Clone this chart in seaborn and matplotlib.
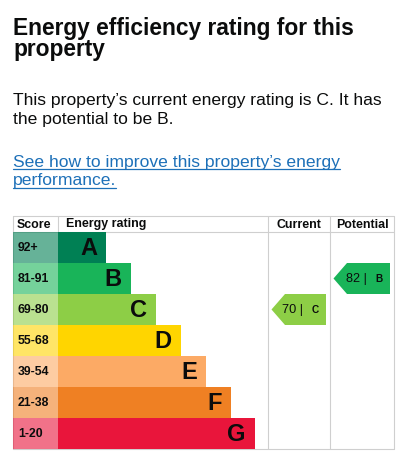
import matplotlib
matplotlib.use("Agg")
import matplotlib.pyplot as plt
from matplotlib.patches import Polygon
import seaborn as sns

# ---------------- DATA ----------------
bands = ["A", "B", "C", "D", "E", "F", "G"]
score_ranges = ["92+", "81-91", "69-80", "55-68", "39-54", "21-38", "1-20"]
bar_length = [48, 73, 98, 123, 148, 173, 197]
band_colors = ["#008054", "#19b459", "#8dce46", "#ffd500", "#fcaa65", "#ef8023", "#e9153b"]

current_score = 70
current_band = "C"
potential_score = 82
potential_band = "B"

title_lines = ["Energy efficiency rating for this", "property"]
summary_lines = ["This property\u2019s current energy rating is C. It has",
                 "the potential to be B."]
link_lines = ["See how to improve this property\u2019s energy", "performance."]

TEXT = "#0b0c0c"
LINK = "#1d70b8"
GRID = "#cfcfcf"

sns.set_style("white")
plt.rcParams["font.family"] = ["Liberation Sans", "DejaVu Sans"]

W, H = 420, 469
fig = plt.figure(figsize=(W / 100, H / 100), dpi=100)
fig.patch.set_facecolor("white")

# main axes in pixel coordinates (y down)
ax = fig.add_axes([0, 0, 1, 1])
ax.set_xlim(0, W)
ax.set_ylim(H, 0)
ax.axis("off")

# ---------------- TEXT BLOCK ----------------
ax.text(13, 35, title_lines[0], fontsize=16.4, fontweight="bold", color=TEXT, va="baseline")
ax.text(13, 56, title_lines[1], fontsize=16.4, fontweight="bold", color=TEXT, va="baseline")
ax.text(13, 105, summary_lines[0], fontsize=12.6, color=TEXT, va="baseline")
ax.text(13, 124, summary_lines[1], fontsize=12.6, color=TEXT, va="baseline")

link_texts = []
for i, line in enumerate(link_lines):
    t = ax.text(13, 167 + 18.5 * i, line, fontsize=12.6, color=LINK, va="baseline")
    link_texts.append(t)

# ---------------- TABLE GEOMETRY ----------------
tbl_left, tbl_right = 13, 394
tbl_top, head_bot, tbl_bot = 216, 232, 449
score_right = 58
cur_left, pot_left = 268, 330


def sub_axes(x0, x1):
    a = fig.add_axes([x0 / W, 1 - tbl_bot / H, (x1 - x0) / W, (tbl_bot - head_bot) / H])
    a.axis("off")
    return a


# score column
score_ax = sub_axes(tbl_left, score_right)
sns.barplot(x=[1] * len(bands), y=bands, hue=bands, palette=band_colors, orient="h",
            width=1, saturation=1, alpha=0.6, linewidth=0, legend=False, ax=score_ax)
score_ax.set_xlim(0, 1)
score_ax.set_ylim(6.5, -0.5)
score_ax.axis("off")
for i, s in enumerate(score_ranges):
    score_ax.text(0.11, i, s, fontsize=8.8, fontweight="bold", color=TEXT, va="center",
                  transform=score_ax.get_yaxis_transform())

# energy rating bars
bar_ax = sub_axes(score_right, cur_left)
sns.barplot(x=bar_length, y=bands, hue=bands, palette=band_colors, orient="h",
            width=1, saturation=1, linewidth=0, legend=False, ax=bar_ax)
bar_ax.set_xlim(0, cur_left - score_right)
bar_ax.set_ylim(6.5, -0.5)
bar_ax.axis("off")
for i, (b, L) in enumerate(zip(bands, bar_length)):
    bar_ax.text(L - 9, i + 0.03, b, fontsize=17, fontweight="bold", color=TEXT,
                ha="right", va="center")


# current / potential arrows
def rating_arrow(a, score, band, width):
    r = bands.index(band)
    col = band_colors[r]
    tip, notch, right = 3.5, 17, width - 4
    pts = [(tip, r), (notch, r - 0.5), (right, r - 0.5), (right, r + 0.5), (notch, r + 0.5)]
    a.add_patch(Polygon(pts, closed=True, facecolor=col, edgecolor="none"))
    a.text(right - 23, r, f"{score} |", fontsize=9.2, color=TEXT, ha="right", va="center")
    a.text(right - 7, r + 0.02, band, fontsize=7.2, fontweight="bold", color=TEXT,
           ha="right", va="center")


cur_ax = sub_axes(cur_left, pot_left)
cur_ax.set_xlim(0, pot_left - cur_left)
cur_ax.set_ylim(6.5, -0.5)
rating_arrow(cur_ax, current_score, current_band, pot_left - cur_left)

pot_ax = sub_axes(pot_left, tbl_right)
pot_ax.set_xlim(0, tbl_right - pot_left)
pot_ax.set_ylim(6.5, -0.5)
rating_arrow(pot_ax, potential_score, potential_band, tbl_right - pot_left)

# table borders
lw = 0.8
for y in [tbl_top, head_bot, tbl_bot]:
    ax.plot([tbl_left, tbl_right], [y, y], color=GRID, lw=lw, zorder=5)
for x in [tbl_left, cur_left, pot_left, tbl_right]:
    ax.plot([x, x], [tbl_top, tbl_bot], color=GRID, lw=lw, zorder=5)
ax.plot([score_right, score_right], [tbl_top, head_bot], color=GRID, lw=lw, zorder=5)

# header
hy = (tbl_top + head_bot) / 2 + 0.5
ax.text(17, hy, "Score", fontsize=8.9, fontweight="bold", color=TEXT, va="center")
ax.text(66, hy, "Energy rating", fontsize=8.9, fontweight="bold", color=TEXT, va="center")
ax.text((cur_left + pot_left) / 2, hy, "Current", fontsize=8.9, fontweight="bold",
        color=TEXT, va="center", ha="center")
ax.text((pot_left + tbl_right) / 2, hy, "Potential", fontsize=8.9, fontweight="bold",
        color=TEXT, va="center", ha="center")

# underline the link text
fig.canvas.draw()
renderer = fig.canvas.get_renderer()
for t in link_texts:
    bb = t.get_window_extent(renderer)
    x0, x1 = bb.x0, bb.x1
    y_base = t.get_position()[1]
    ax.plot([x0, x1], [y_base + 2.5, y_base + 2.5], color=LINK, lw=0.9)

fig.savefig("out.png", dpi=100, facecolor="white")
